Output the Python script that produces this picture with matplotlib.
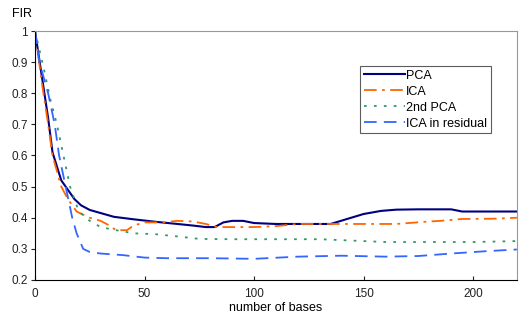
import matplotlib
matplotlib.use("Agg")
import matplotlib.pyplot as plt

plt.rcParams['font.family'] = ['Liberation Sans', 'DejaVu Sans']

# values
x_pca = [0, 3, 6, 8, 12, 15, 18, 21, 25, 30, 36, 45, 55, 65, 72, 78, 82, 86, 90, 95, 100, 110,
         120, 135, 142, 150, 158, 165, 175, 190, 195, 205, 220]
pca = [1.0, 0.86, 0.72, 0.61, 0.52, 0.49, 0.46, 0.44, 0.425, 0.415, 0.403, 0.395, 0.387, 0.38,
       0.375, 0.37, 0.37, 0.385, 0.39, 0.39, 0.383, 0.38, 0.38, 0.38, 0.395, 0.412, 0.422, 0.426,
       0.427, 0.427, 0.42, 0.42, 0.42]

x_ica = [0, 3, 6, 8, 12, 15, 19, 25, 30, 34, 37, 42, 45, 50, 58, 65, 72, 78, 83, 90, 100, 110,
         120, 135, 150, 165, 178, 185, 195, 210, 220]
ica = [1.0, 0.84, 0.7, 0.6, 0.5, 0.46, 0.42, 0.4, 0.39, 0.375, 0.36, 0.36, 0.375, 0.385, 0.385,
       0.39, 0.388, 0.38, 0.37, 0.37, 0.37, 0.373, 0.38, 0.38, 0.38, 0.38, 0.387, 0.39, 0.396,
       0.397, 0.4]

x_pca2 = [0, 4, 7, 10, 13, 16, 20, 25, 30, 37, 45, 55, 65, 75, 90, 110, 130, 140, 160, 180,
          200, 220]
pca2 = [1.0, 0.88, 0.78, 0.7, 0.6, 0.5, 0.42, 0.39, 0.37, 0.36, 0.35, 0.347, 0.34, 0.332, 0.331,
        0.331, 0.331, 0.328, 0.322, 0.322, 0.322, 0.325]

x_resid = [0, 2, 6, 9, 11, 14, 17, 19, 22, 25, 30, 40, 50, 60, 80, 100, 120, 140, 160, 175,
           190, 207, 220]
resid = [1.0, 0.9, 0.8, 0.7, 0.6, 0.5, 0.4, 0.35, 0.3, 0.29, 0.285, 0.28, 0.272, 0.27, 0.27,
         0.268, 0.275, 0.278, 0.275, 0.277, 0.285, 0.293, 0.298]

x_ticks = [0, 50, 100, 150, 200]
y_ticks = [0.2, 0.3, 0.4, 0.5, 0.6, 0.7, 0.8, 0.9, 1.0]
y_labels = ['0.2', '0.3', '0.4', '0.5', '0.6', '0.7', '0.8', '0.9', '1']

fig = plt.figure(figsize=(5.2, 3.25), dpi=100)
ax = fig.add_axes([0.0673, 0.1385, 0.9267, 0.7661])

ax.plot(x_pca, pca, color='#000080', lw=1.5, label='PCA')
ax.plot(x_ica, ica, color='#FF6600', lw=1.3, dashes=(7, 3, 1.5, 3), label='ICA')
ax.plot(x_pca2, pca2, color='#339966', lw=1.3, dashes=(1.5, 4), label='2nd PCA')
ax.plot(x_resid, resid, color='#3366FF', lw=1.3, dashes=(7, 4), label='ICA in residual')

ax.set_xlim(0, 220)
ax.set_ylim(0.2, 1.0)
ax.set_xticks(x_ticks)
ax.set_yticks(y_ticks)
ax.set_yticklabels(y_labels)
ax.tick_params(axis='y', direction='out', length=3, labelsize=8.5, colors='#222222', pad=2)
ax.tick_params(axis='x', direction='in', length=3, labelsize=8.5, colors='#222222', pad=6)

for s in ['left', 'bottom']:
    ax.spines[s].set_color('black')
for s in ['top', 'right']:
    ax.spines[s].set_color('#999999')

ax.set_xlabel('number of bases', fontsize=9, labelpad=1)
fig.text(0.023, 0.975, 'FIR', fontsize=9, va='top')

leg = ax.legend(loc='upper left', bbox_to_anchor=(0.674, 0.86), fontsize=9, frameon=True,
                fancybox=False, edgecolor='#333333', handlelength=3.3, handletextpad=0.1,
                borderpad=0.3, labelspacing=0.32, borderaxespad=0)
leg.get_frame().set_linewidth(0.8)

fig.savefig('out.png', dpi=100)
